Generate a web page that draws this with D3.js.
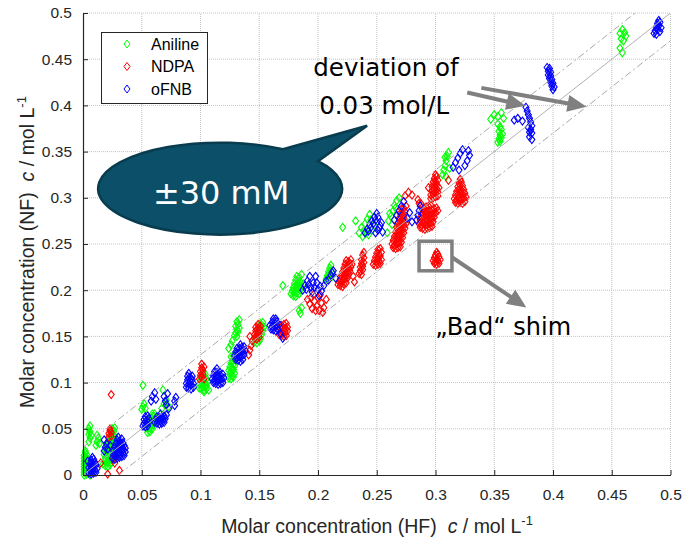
<!DOCTYPE html>
<html><head><meta charset="utf-8">
<script src="https://cdn.jsdelivr.net/npm/d3@7"></script>
<style>body{margin:0;background:#fff}svg{display:block}</style>
</head><body>
<svg id="c" width="682" height="540"></svg>
<script>
const seriesNames = ["Aniline", "NDPA", "oFNB"];
const seriesColors = ["#00ff00", "#ff0000", "#0000ff"];
const tickValues = [0,0.05,0.1,0.15,0.2,0.25,0.3,0.35,0.4,0.45,0.5];
const tickLabels = ["0","0.05","0.1","0.15","0.2","0.25","0.3","0.35","0.4","0.45","0.5"];
const deviation = 0.03;

const aniline = [
[0.001,0.000],[0.003,0.001],[0.001,0.003],[0.003,0.004],[0.001,0.006],[0.003,0.007],[0.001,0.009],[0.003,0.010],[0.001,0.012],[0.003,0.013],[0.001,0.015],[0.003,0.016],[0.001,0.018],[0.003,0.019],[0.001,0.021],[0.003,0.022],[0.002,0.024],[0.002,0.026],[0.005,0.002],[0.006,0.000],
[0.005,0.036],[0.006,0.040],[0.005,0.044],[0.006,0.047],[0.005,0.050],[0.006,0.053],[0.007,0.043],
[0.017,0.012],[0.019,0.010],[0.021,0.009],[0.023,0.011],[0.018,0.015],[0.020,0.014],[0.022,0.015],[0.024,0.014],[0.019,0.018],[0.021,0.019],[0.023,0.018],[0.025,0.017],[0.018,0.022],[0.020,0.023],[0.022,0.022],[0.024,0.021],[0.026,0.020],[0.019,0.026],[0.021,0.027],[0.023,0.026],[0.025,0.025],[0.027,0.024],[0.020,0.030],[0.022,0.031],[0.024,0.030],[0.026,0.029],[0.021,0.034],[0.023,0.035],[0.025,0.034],[0.027,0.033],[0.022,0.038],[0.024,0.039],[0.026,0.038],[0.028,0.037],[0.023,0.042],[0.025,0.043],[0.027,0.042],[0.024,0.046],[0.026,0.047],[0.025,0.050],[0.027,0.051],[0.029,0.028],[0.028,0.020],
[0.011,0.032],[0.012,0.036],[0.013,0.040],[0.014,0.034],[0.012,0.043],
[0.050,0.071],[0.051,0.074],[0.052,0.077],[0.053,0.072],[0.051,0.097],
[0.055,0.046],[0.057,0.047],[0.055,0.050],[0.057,0.051],[0.059,0.050],[0.056,0.054],[0.058,0.055],[0.060,0.054],[0.057,0.058],[0.059,0.059],[0.061,0.058],[0.058,0.062],[0.060,0.063],[0.062,0.062],[0.059,0.066],[0.061,0.066],
[0.068,0.092],[0.067,0.072],[0.069,0.077],[0.071,0.081],[0.073,0.074],
[0.099,0.094],[0.101,0.093],[0.103,0.092],[0.105,0.093],[0.107,0.092],[0.099,0.098],[0.101,0.097],[0.103,0.096],[0.105,0.097],[0.100,0.102],[0.102,0.101],[0.104,0.100],[0.106,0.101],[0.101,0.106],[0.103,0.105],[0.105,0.104],[0.102,0.110],[0.104,0.109],[0.103,0.090],
[0.124,0.105],[0.126,0.104],[0.128,0.106],[0.125,0.109],[0.127,0.108],[0.129,0.110],[0.124,0.113],[0.126,0.112],[0.128,0.114],[0.125,0.117],[0.127,0.116],[0.129,0.118],[0.126,0.121],[0.128,0.120],[0.127,0.124],[0.129,0.125],[0.126,0.128],[0.128,0.129],[0.130,0.131],
[0.124,0.137],[0.126,0.141],[0.127,0.145],
[0.129,0.151],[0.131,0.150],[0.130,0.154],[0.132,0.155],[0.131,0.158],[0.133,0.159],[0.130,0.161],[0.132,0.163],[0.131,0.166],[0.133,0.168],
[0.146,0.144],[0.148,0.143],[0.150,0.145],[0.147,0.148],[0.149,0.149],[0.151,0.148],[0.148,0.152],[0.150,0.153],[0.152,0.152],[0.149,0.156],[0.151,0.157],[0.153,0.156],[0.150,0.160],[0.152,0.161],[0.154,0.160],[0.151,0.164],[0.153,0.165],
[0.170,0.205],
[0.177,0.196],[0.179,0.194],[0.181,0.193],[0.178,0.199],[0.180,0.198],[0.182,0.197],[0.184,0.196],[0.179,0.203],[0.181,0.202],[0.183,0.201],[0.185,0.200],[0.180,0.207],[0.182,0.206],[0.184,0.205],[0.186,0.204],[0.181,0.211],[0.183,0.210],[0.185,0.209],[0.182,0.215],[0.184,0.214],[0.186,0.217],[0.188,0.207],
[0.184,0.178],[0.186,0.181],[0.185,0.175],
[0.207,0.212],[0.209,0.213],[0.208,0.216],[0.210,0.217],[0.209,0.220],[0.211,0.221],[0.210,0.224],[0.211,0.227],[0.212,0.215],
[0.221,0.268],[0.232,0.275],
[0.235,0.262],[0.237,0.268],[0.240,0.272],[0.242,0.277],[0.244,0.282],[0.238,0.258],[0.246,0.265],[0.248,0.270],[0.243,0.260],[0.259,0.262],[0.239,0.265],[0.241,0.262],[0.245,0.276],
[0.260,0.275],[0.262,0.280],[0.264,0.286],[0.265,0.292],[0.267,0.297],[0.269,0.300],[0.263,0.271],[0.261,0.283],[0.266,0.289],
[0.306,0.325],[0.307,0.330],[0.308,0.335],[0.309,0.340],[0.310,0.345],[0.311,0.349],[0.312,0.332],[0.309,0.323],[0.308,0.344],
[0.347,0.385],[0.350,0.390],[0.353,0.388],[0.356,0.392],[0.358,0.386],[0.353,0.360],[0.355,0.361],[0.354,0.364],[0.356,0.365],[0.355,0.368],[0.357,0.369],[0.354,0.372],[0.356,0.374],[0.355,0.377],[0.353,0.380],
[0.457,0.478],[0.459,0.482],[0.461,0.479],[0.462,0.475],[0.458,0.472],[0.460,0.470],[0.457,0.462],[0.459,0.457]
];

const ndpa = [
[0.022,0.041],[0.024,0.042],[0.022,0.045],[0.024,0.046],[0.023,0.048],[0.023,0.050],
[0.024,0.087],
[0.015,0.013],[0.021,0.001],[0.027,0.013],[0.031,0.005],[0.027,0.020],[0.026,0.017],
[0.099,0.104],[0.101,0.105],[0.103,0.104],[0.100,0.108],[0.102,0.109],[0.100,0.112],[0.102,0.113],[0.101,0.116],[0.103,0.117],[0.101,0.120],
[0.141,0.130],[0.142,0.135],[0.143,0.140],[0.144,0.145],[0.142,0.150],
[0.146,0.148],[0.148,0.147],[0.150,0.149],[0.146,0.152],[0.148,0.151],[0.150,0.153],[0.147,0.156],[0.149,0.155],[0.151,0.157],[0.147,0.160],[0.149,0.159],[0.151,0.161],[0.149,0.163],
[0.167,0.152],[0.169,0.151],[0.171,0.150],[0.173,0.151],[0.168,0.155],[0.170,0.154],[0.172,0.155],[0.174,0.156],[0.168,0.159],[0.170,0.158],[0.172,0.159],[0.174,0.160],[0.169,0.162],[0.171,0.163],[0.173,0.164],
[0.191,0.190],[0.193,0.185],[0.195,0.180],[0.197,0.188],[0.199,0.183],[0.201,0.178],[0.203,0.186],[0.205,0.181],[0.207,0.190],[0.196,0.195],[0.200,0.192],[0.194,0.192],[0.198,0.178],[0.202,0.195],[0.204,0.176],
[0.217,0.206],[0.219,0.205],[0.221,0.204],[0.218,0.209],[0.220,0.208],[0.222,0.207],[0.224,0.208],[0.219,0.212],[0.221,0.211],[0.223,0.212],[0.225,0.213],[0.220,0.216],[0.222,0.215],[0.224,0.216],[0.226,0.217],[0.221,0.220],[0.223,0.219],[0.225,0.220],[0.227,0.221],[0.222,0.224],[0.224,0.223],[0.226,0.224],[0.228,0.225],[0.223,0.228],[0.225,0.227],[0.227,0.229],[0.229,0.228],[0.224,0.232],[0.226,0.231],[0.228,0.233],[0.230,0.215],[0.231,0.209],
[0.235,0.218],[0.237,0.217],[0.236,0.221],[0.238,0.222],[0.236,0.225],[0.238,0.226],[0.237,0.229],[0.239,0.230],[0.237,0.233],[0.239,0.235],[0.238,0.238],[0.239,0.241],
[0.247,0.228],[0.249,0.227],[0.251,0.228],[0.253,0.229],[0.248,0.232],[0.250,0.231],[0.252,0.232],[0.254,0.233],[0.249,0.236],[0.251,0.235],[0.253,0.237],[0.250,0.240],[0.252,0.239],[0.254,0.241],[0.251,0.244],[0.253,0.245],
[0.264,0.246],[0.266,0.245],[0.268,0.246],[0.270,0.247],[0.263,0.250],[0.265,0.249],[0.267,0.250],[0.269,0.251],[0.271,0.252],[0.264,0.254],[0.266,0.254],[0.268,0.255],[0.270,0.256],[0.272,0.257],[0.265,0.258],[0.267,0.259],[0.269,0.260],[0.271,0.261],[0.273,0.262],[0.266,0.263],[0.268,0.264],[0.270,0.265],[0.272,0.266],[0.274,0.267],[0.267,0.268],[0.269,0.269],[0.271,0.270],[0.273,0.271],[0.275,0.272],[0.268,0.273],[0.270,0.274],[0.272,0.275],[0.274,0.276],[0.269,0.278],[0.271,0.279],[0.273,0.280],[0.270,0.283],[0.272,0.284],[0.274,0.285],[0.271,0.288],[0.273,0.289],[0.275,0.291],
[0.274,0.302],[0.277,0.306],[0.280,0.303],
[0.287,0.268],[0.289,0.267],[0.291,0.266],[0.293,0.267],[0.295,0.268],[0.297,0.269],[0.286,0.272],[0.288,0.271],[0.290,0.272],[0.292,0.271],[0.294,0.272],[0.296,0.273],[0.298,0.274],[0.287,0.276],[0.289,0.276],[0.291,0.276],[0.293,0.276],[0.295,0.277],[0.297,0.278],[0.299,0.279],[0.288,0.280],[0.290,0.280],[0.292,0.281],[0.294,0.281],[0.296,0.282],[0.298,0.283],[0.300,0.284],[0.289,0.284],[0.291,0.285],[0.293,0.285],[0.295,0.286],[0.297,0.287],[0.299,0.288],[0.301,0.289],[0.290,0.289],[0.292,0.290],[0.294,0.291],[0.296,0.292],[0.302,0.286],[0.286,0.294],[0.288,0.293],[0.285,0.298],
[0.296,0.299],[0.298,0.300],[0.300,0.301],[0.302,0.302],[0.296,0.303],[0.298,0.304],[0.300,0.305],[0.302,0.306],[0.297,0.308],[0.299,0.309],[0.301,0.310],[0.303,0.311],[0.297,0.312],[0.299,0.313],[0.301,0.314],[0.298,0.317],[0.300,0.318],[0.302,0.319],[0.299,0.321],[0.301,0.323],[0.300,0.325],[0.294,0.311],
[0.317,0.295],[0.319,0.294],[0.321,0.295],[0.323,0.294],[0.325,0.296],[0.316,0.299],[0.318,0.298],[0.320,0.299],[0.322,0.299],[0.324,0.300],[0.326,0.301],[0.317,0.303],[0.319,0.303],[0.321,0.304],[0.323,0.304],[0.325,0.305],[0.318,0.307],[0.320,0.308],[0.322,0.308],[0.324,0.309],[0.319,0.312],[0.321,0.313],[0.323,0.313],[0.320,0.316],[0.322,0.317],[0.321,0.320],[0.311,0.319],
[0.299,0.229],[0.301,0.228],[0.303,0.229],[0.298,0.232],[0.300,0.231],[0.302,0.232],[0.304,0.233],[0.299,0.235],[0.301,0.234],[0.303,0.236],[0.300,0.238],[0.302,0.239],[0.301,0.241]
];

const ofnb = [
[0.005,0.002],[0.007,0.001],[0.009,0.002],[0.011,0.003],[0.006,0.005],[0.008,0.005],[0.010,0.006],[0.012,0.007],[0.005,0.008],[0.007,0.009],[0.009,0.010],[0.011,0.011],[0.006,0.012],[0.008,0.013],[0.010,0.014],[0.007,0.016],[0.009,0.017],[0.008,0.019],[0.004,0.015],
[0.025,0.018],[0.027,0.017],[0.029,0.018],[0.031,0.019],[0.033,0.020],[0.035,0.021],[0.026,0.022],[0.028,0.021],[0.030,0.022],[0.032,0.023],[0.034,0.024],[0.036,0.025],[0.026,0.026],[0.028,0.025],[0.030,0.026],[0.032,0.027],[0.034,0.028],[0.036,0.029],[0.027,0.030],[0.029,0.029],[0.031,0.030],[0.033,0.031],[0.035,0.032],[0.028,0.034],[0.030,0.033],[0.032,0.034],[0.034,0.035],[0.029,0.038],[0.031,0.037],[0.033,0.039],[0.030,0.041],[0.018,0.026],[0.019,0.030],[0.020,0.034],[0.018,0.038],[0.021,0.028],[0.023,0.032],
[0.051,0.053],[0.053,0.052],[0.055,0.053],[0.052,0.056],[0.054,0.056],[0.056,0.057],[0.052,0.060],[0.054,0.059],[0.056,0.061],[0.053,0.063],[0.055,0.064],
[0.058,0.080],[0.059,0.085],[0.061,0.089],[0.062,0.082],
[0.061,0.057],[0.063,0.056],[0.065,0.055],[0.067,0.056],[0.069,0.057],[0.062,0.060],[0.064,0.059],[0.066,0.059],[0.068,0.060],[0.070,0.061],[0.063,0.063],[0.065,0.062],[0.067,0.063],[0.069,0.064],[0.071,0.065],[0.066,0.066],
[0.069,0.085],[0.070,0.080],[0.071,0.076],[0.073,0.072],[0.072,0.088],
[0.078,0.075],[0.078,0.080],[0.079,0.084],
[0.088,0.095],[0.090,0.094],[0.092,0.093],[0.094,0.095],[0.088,0.099],[0.090,0.098],[0.092,0.097],[0.094,0.099],[0.089,0.103],[0.091,0.102],[0.093,0.103],[0.089,0.107],[0.091,0.106],[0.093,0.107],[0.090,0.110],
[0.111,0.100],[0.113,0.099],[0.115,0.098],[0.117,0.099],[0.119,0.100],[0.110,0.104],[0.112,0.103],[0.114,0.102],[0.116,0.103],[0.118,0.104],[0.120,0.105],[0.111,0.108],[0.113,0.107],[0.115,0.107],[0.117,0.108],[0.119,0.109],[0.112,0.112],[0.114,0.111],[0.116,0.112],[0.114,0.115],
[0.130,0.125],[0.132,0.124],[0.134,0.123],[0.136,0.125],[0.129,0.129],[0.131,0.128],[0.133,0.128],[0.135,0.129],[0.137,0.130],[0.130,0.133],[0.132,0.132],[0.134,0.133],[0.136,0.134],[0.138,0.135],[0.131,0.137],[0.133,0.137],[0.135,0.138],[0.137,0.139],[0.134,0.141],
[0.160,0.158],[0.162,0.157],[0.164,0.156],[0.166,0.157],[0.159,0.162],[0.161,0.161],[0.163,0.161],[0.165,0.162],[0.167,0.163],[0.161,0.165],[0.163,0.165],[0.165,0.166],[0.162,0.169],[0.164,0.169],[0.170,0.148],[0.168,0.153],
[0.187,0.200],[0.189,0.205],[0.191,0.210],[0.193,0.215],[0.195,0.198],[0.197,0.203],[0.199,0.208],[0.201,0.194],[0.203,0.199],[0.205,0.205],[0.198,0.215],[0.207,0.210],[0.190,0.201],[0.192,0.206],[0.194,0.203],[0.196,0.208],[0.200,0.201],[0.202,0.204],
[0.209,0.211],[0.211,0.216],[0.213,0.221],[0.215,0.213],[0.212,0.219],
[0.240,0.262],[0.242,0.266],[0.244,0.271],[0.246,0.275],[0.248,0.279],[0.250,0.283],[0.252,0.268],[0.254,0.273],[0.255,0.263],[0.249,0.262],[0.243,0.264],[0.245,0.268],[0.247,0.272],[0.249,0.276],[0.251,0.279],[0.251,0.265],[0.253,0.270],
[0.265,0.276],[0.267,0.281],[0.269,0.286],[0.271,0.291],[0.273,0.296],[0.276,0.278],[0.278,0.284],[0.280,0.274],
[0.284,0.276],[0.285,0.281],[0.286,0.286],[0.287,0.291],
[0.315,0.333],[0.317,0.338],[0.319,0.343],[0.321,0.348],[0.323,0.352],[0.325,0.335],[0.327,0.340],[0.329,0.346],[0.320,0.330],[0.328,0.351],
[0.367,0.384],[0.370,0.386],[0.374,0.383],
[0.377,0.398],[0.378,0.394],[0.379,0.390],[0.380,0.386],[0.381,0.382],[0.382,0.378],[0.381,0.374],[0.382,0.370],[0.380,0.366],[0.382,0.363],[0.379,0.376],[0.380,0.371],
[0.395,0.441],[0.397,0.440],[0.396,0.437],[0.398,0.436],[0.396,0.433],[0.398,0.432],[0.397,0.429],[0.399,0.428],[0.398,0.425],[0.400,0.424],[0.399,0.421],[0.401,0.420],[0.400,0.417],
[0.486,0.478],[0.488,0.477],[0.487,0.481],[0.489,0.482],[0.488,0.485],[0.490,0.486],[0.489,0.489],[0.491,0.490],[0.491,0.480],[0.492,0.484],[0.490,0.492]
];

const seriesData = [aniline, ndpa, ofnb];

const svg = d3.select("#c");
const x = d3.scaleLinear().domain([0,0.5]).range([83,670.5]);
const y = d3.scaleLinear().domain([0,0.5]).range([475,13]);
const AX = "'Liberation Sans', Arial, sans-serif";
const ANN = "'DejaVu Sans', Verdana, sans-serif";

svg.append("defs").append("clipPath").attr("id","plot")
  .append("rect").attr("x",x(0)).attr("y",y(0.5)).attr("width",x(0.5)-x(0)).attr("height",y(0)-y(0.5));

// grid
const grid = svg.append("g").attr("stroke","#c4c4c4").attr("stroke-width",1).attr("stroke-dasharray","1,1");
tickValues.filter(v=>v>0).forEach(v=>{
  grid.append("line").attr("x1",x(v)).attr("x2",x(v)).attr("y1",y(0)).attr("y2",y(0.5));
  grid.append("line").attr("x1",x(0)).attr("x2",x(0.5)).attr("y1",y(v)).attr("y2",y(v));
});

// data
const diamond = "M0,-4L3,0L0,4L-3,0Z";
seriesData.forEach((data,i)=>{
  svg.append("g").selectAll("path").data(data).join("path")
    .attr("d",diamond)
    .attr("transform",d=>`translate(${x(d[0])},${y(d[1])})`)
    .attr("fill","none").attr("stroke",seriesColors[i]).attr("stroke-width",1.1);
});

// reference lines
const refs = svg.append("g").attr("clip-path","url(#plot)").attr("fill","none");
refs.append("line").attr("x1",x(0)).attr("y1",y(0)).attr("x2",x(0.5)).attr("y2",y(0.5))
  .attr("stroke","#b0b0b0").attr("stroke-width",1);
[deviation,-deviation].forEach(dv=>{
  refs.append("line").attr("x1",x(0)).attr("y1",y(0+dv)).attr("x2",x(0.5)).attr("y2",y(0.5+dv))
    .attr("stroke","#a8a8a8").attr("stroke-width",1).attr("stroke-dasharray","7,3,2,3");
});

// axes
const xAxis = d3.axisBottom(x).tickValues(tickValues).tickFormat((d,i)=>tickLabels[i]).tickSizeInner(-5).tickSizeOuter(0).tickPadding(14);
const yAxis = d3.axisLeft(y).tickValues(tickValues).tickFormat((d,i)=>tickLabels[i]).tickSizeInner(-5).tickSizeOuter(0).tickPadding(11);
const gx = svg.append("g").attr("transform",`translate(0,${y(0)})`).call(xAxis);
const gy = svg.append("g").attr("transform",`translate(${x(0)},0)`).call(yAxis);
[gx,gy].forEach(g=>{
  g.select(".domain").attr("stroke","#262626").attr("stroke-width",1.2);
  g.selectAll(".tick line").attr("stroke","#262626");
  g.selectAll(".tick text").attr("fill","#262626").style("font-family",AX).style("font-size","15.5px");
});

// axis labels
function axisLabel(sel, src){
  sel.append("tspan").text(`Molar concentration (${src})\u00a0\u00a0`);
  sel.append("tspan").attr("font-style","italic").text("c");
  sel.append("tspan").text(" / mol L");
  sel.append("tspan").attr("dy",-8).style("font-size","13px").text("-1");
}
const xl = svg.append("text").attr("x",377).attr("y",533).attr("text-anchor","middle")
  .style("font-family",AX).style("font-size","19.5px").attr("fill","#262626");
axisLabel(xl,"HF");
const yl = svg.append("text").attr("transform","translate(34,252) rotate(-90)").attr("text-anchor","middle")
  .style("font-family",AX).style("font-size","19.5px").attr("fill","#262626");
axisLabel(yl,"NF");

// legend
const lg = svg.append("g");
lg.append("rect").attr("x",101.5).attr("y",32.5).attr("width",106).attr("height",71)
  .attr("fill","#fff").attr("stroke","#262626").attr("stroke-width",1);
seriesNames.forEach((n,i)=>{
  const yy = 44 + i*22.5;
  lg.append("path").attr("d",diamond).attr("transform",`translate(127,${yy})`)
    .attr("fill","none").attr("stroke",seriesColors[i]).attr("stroke-width",1);
  lg.append("text").attr("x",151).attr("y",yy+5.5).text(n)
    .style("font-family",AX).style("font-size","16px").attr("fill","#000");
});

// callout bubble
const cx = x(0.1167), cy = y(0.3099), rx = 122, ry = 46;
const ta = -1.03, tb = -0.64;
const pa = [cx+rx*Math.cos(ta), cy+ry*Math.sin(ta)];
const pb = [cx+rx*Math.cos(tb), cy+ry*Math.sin(tb)];
const tip = [x(0.2418), y(0.3780)];
svg.append("path")
  .attr("d",`M${pa[0]},${pa[1]}L${tip[0]},${tip[1]}L${pb[0]},${pb[1]}A${rx},${ry} 0 1 1 ${pa[0]},${pa[1]}Z`)
  .attr("fill","#0b5068").attr("stroke","#083c4e").attr("stroke-width",2.5);
svg.append("text").attr("x",cx+1).attr("y",cy+15).attr("text-anchor","middle")
  .style("font-family",ANN).style("font-size","32px").attr("fill","#fff").text("±30 mM");

// annotation texts
svg.append("text").attr("x",x(0.196)).attr("y",y(0.432)).text("deviation of")
  .style("font-family",ANN).style("font-size","24.5px").attr("fill","#000");
svg.append("text").attr("x",x(0.201)).attr("y",y(0.391)).text("0.03 mol/L")
  .style("font-family",ANN).style("font-size","24.5px").attr("fill","#000");
svg.append("text").attr("x",x(0.2998)).attr("y",y(0.151)).text("\u201EBad\u201C shim")
  .style("font-family",ANN).style("font-size","24px").attr("fill","#000");

// arrows
function arrow(x1,y1,x2,y2){
  const X1=x(x1),Y1=y(y1),X2=x(x2),Y2=y(y2);
  const dx=X2-X1, dy=Y2-Y1, L=Math.hypot(dx,dy), ux=dx/L, uy=dy/L;
  const hl=19, hw=8.5;
  const bx=X2-ux*hl, by=Y2-uy*hl;
  svg.append("line").attr("x1",X1).attr("y1",Y1).attr("x2",bx+ux*2).attr("y2",by+uy*2)
    .attr("stroke","#808080").attr("stroke-width",4);
  svg.append("path").attr("d",`M${X2},${Y2}L${bx-uy*hw},${by+ux*hw}L${bx+uy*hw},${by-ux*hw}Z`).attr("fill","#808080");
}
arrow(0.327,0.414,0.3765,0.3996);
arrow(0.339,0.419,0.4285,0.3985);

// bad shim box + arrow
svg.append("rect").attr("x",x(0.286)).attr("y",y(0.253)).attr("width",x(0.314)-x(0.286)).attr("height",y(0.221)-y(0.253))
  .attr("fill","none").attr("stroke","#808080").attr("stroke-width",3.5);
arrow(0.3143,0.2354,0.3773,0.1814);
</script>
</body></html>
